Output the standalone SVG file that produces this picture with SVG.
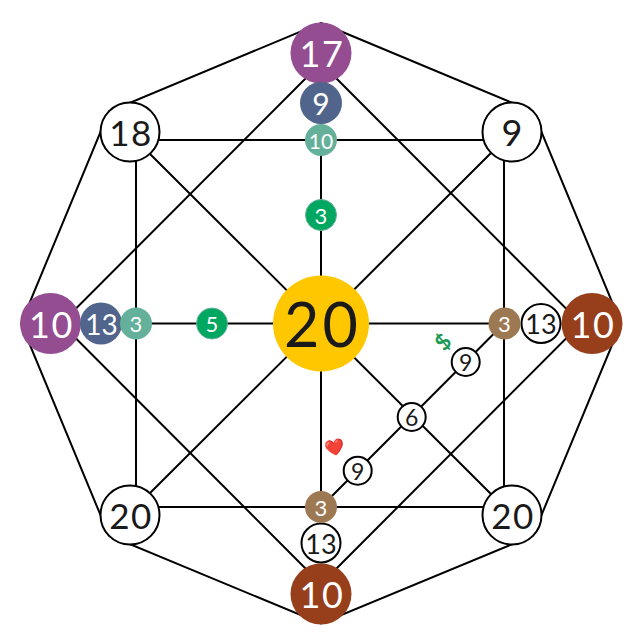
<svg xmlns="http://www.w3.org/2000/svg" width="637" height="642" viewBox="0 0 637 642">
<style>
text{font-family:"Lato","Open Sans","Liberation Sans",sans-serif;text-anchor:middle;dominant-baseline:central}
.l{fill:none;stroke:#000;stroke-width:2}
.w{fill:#fff;stroke:#000;stroke-width:2}
.d{fill:#1a1a1a}
.t{fill:#fff}
.s{letter-spacing:1.500px}
.purple{fill:#954d91}.blue{fill:#50648c}.teal{fill:#64b09a}.green{fill:#00a760;stroke:#64b09a;stroke-width:1}.brown{fill:#9c7953}.rust{fill:#973f1b}.gold{fill:#fec700}
</style>
<rect width="637" height="642" fill="#fff"/>
<g id="connectors" class="l">
<path d="M321 23L533 111.500L621 323.500L533 535.500L321 623.500L109 535.500L21 323.500L109 111.500Z"/>
<path d="M136 140H504V507H136Z"/>
<path d="M321 63L581 323.500L321 584L61 323.500Z"/>
<path d="M136 140L504 507M504 140L136 507M321 140V507M136 323.500H504M504 323.500L321 507"/>
</g>
<g id="n-top"><circle class="purple" cx="321" cy="53" r="30.500"/><text class="t s" x="322" y="53" font-size="36">17</text></g>
<g id="n-top-9"><circle class="blue" cx="321" cy="103" r="21"/><text class="t" x="321" y="103" font-size="30">9</text></g>
<g id="n-top-10"><circle class="teal" cx="321" cy="140" r="16"/><text class="t" x="321" y="140" font-size="21">10</text></g>
<g id="n-tl"><circle class="w" cx="130" cy="132" r="29.500"/><text class="d s" x="131" y="132" font-size="35">18</text></g>
<g id="n-tr"><circle class="w" cx="512" cy="132" r="29.500"/><text class="d" x="512" y="132" font-size="36">9</text></g>
<g id="n-bl"><circle class="w" cx="130" cy="515" r="29.500"/><text class="d s" x="131" y="515" font-size="35">20</text></g>
<g id="n-br"><circle class="w" cx="512" cy="515" r="29.500"/><text class="d s" x="513" y="515" font-size="35">20</text></g>
<g id="n-center"><circle class="gold" cx="321" cy="323.500" r="48"/><text class="d" x="322.500" y="323.500" font-size="61" letter-spacing="3">20</text></g>
<g id="n-upper-3"><circle class="green" cx="321" cy="215" r="15.500"/><text class="t" x="321" y="215" font-size="22">3</text></g>
<g id="n-left-5"><circle class="green" cx="212" cy="323.500" r="15.500"/><text class="t" x="212" y="323.500" font-size="22">5</text></g>
<g id="n-left"><circle class="purple" cx="50.500" cy="323.500" r="30.500"/><text class="t s" x="51.500" y="323.500" font-size="36">10</text></g>
<g id="n-left-13"><circle class="blue" cx="101" cy="323.500" r="21"/><text class="t" x="101.500" y="323.500" font-size="28">13</text></g>
<g id="n-left-3"><circle class="teal" cx="136" cy="323.500" r="16"/><text class="t" x="136" y="323.500" font-size="22">3</text></g>
<g id="n-right"><circle class="rust" cx="592" cy="323.500" r="30.500"/><text class="t s" x="593" y="323.500" font-size="36">10</text></g>
<g id="n-right-13"><circle class="w" cx="541" cy="323.500" r="19.500"/><text class="d" x="541" y="323.500" font-size="27">13</text></g>
<g id="n-right-3"><circle class="brown" cx="504.500" cy="323.500" r="16"/><text class="t" x="504.500" y="323.500" font-size="22">3</text></g>
<g id="n-bottom"><circle class="rust" cx="321" cy="594" r="30.500"/><text class="t s" x="322" y="594" font-size="36">10</text></g>
<g id="n-bottom-13"><circle class="w" cx="321" cy="543" r="19.500"/><text class="d" x="321" y="543" font-size="27">13</text></g>
<g id="n-bottom-3"><circle class="brown" cx="321" cy="507" r="16"/><text class="t" x="321" y="507" font-size="22">3</text></g>
<g id="n-d-9a"><circle class="w" cx="465.700" cy="362" r="14"/><text class="d" x="465.700" y="362" font-size="23">9</text></g>
<g id="n-d-6"><circle class="w" cx="411.700" cy="417" r="14"/><text class="d" x="411.700" y="417" font-size="23">6</text></g>
<g id="n-d-9b"><circle class="w" cx="357.700" cy="470.700" r="14"/><text class="d" x="357.700" y="470.700" font-size="23">9</text></g>
<g id="heart"><text x="334" y="447" font-size="16" transform="rotate(-12 334 447)">❤️</text></g>
<g id="dollar"><text x="442.500" y="341.500" font-size="22" font-weight="700" fill="#1c9a55" transform="rotate(-45 442.500 341.500)">$</text></g>
</svg>
